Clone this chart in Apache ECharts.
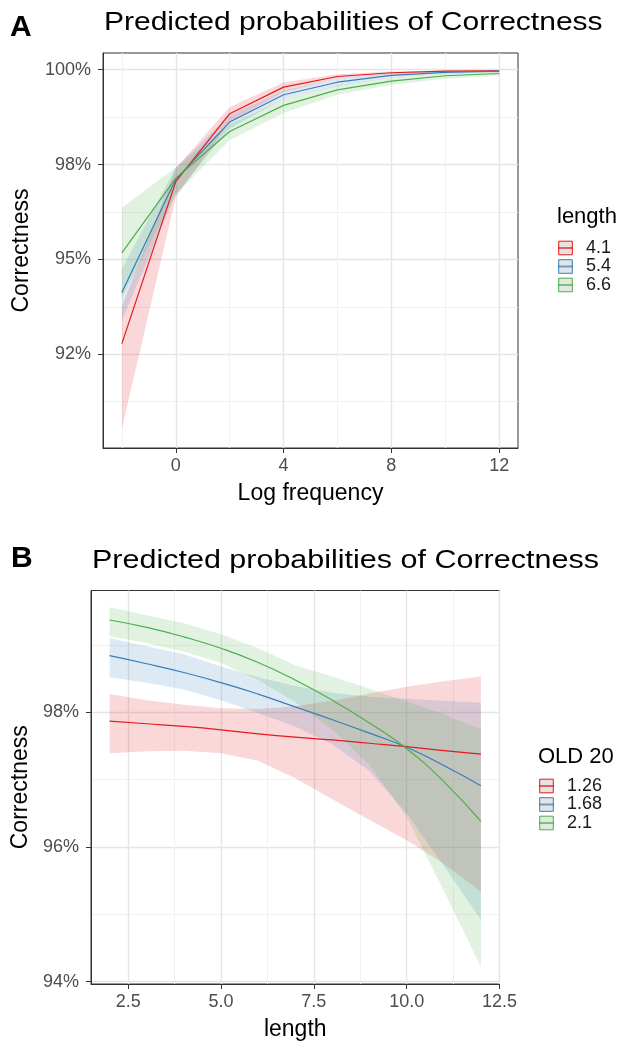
<!DOCTYPE html>
<html>
<head>
<meta charset="utf-8">
<title>Predicted probabilities of Correctness</title>
<style>
  html, body { margin: 0; padding: 0; background: #fff; }
  #chart { width: 627px; height: 1049px; }
</style>
</head>
<body>
<div id="chart"></div>
<script src="https://cdn.jsdelivr.net/npm/echarts@6/dist/echarts.min.js"></script>
<script>
// panel A: log frequency x length
var freqX = [-2, 0, 2, 4, 6, 8, 10, 12];
var lengthNames = ['4.1', '5.4', '6.6'];
var fitLen41 = [0.9278, 0.9705, 0.9884, 0.9954, 0.9982, 0.9992, 0.9996, 0.9997];
var loLen41  = [0.9054, 0.9664, 0.9862, 0.9941, 0.9976, 0.9988, 0.9993, 0.9994];
var hiLen41  = [0.9375, 0.9740, 0.9902, 0.9966, 0.9988, 0.9995, 0.9998, 0.9999];
var fitLen54 = [0.9413, 0.9711, 0.9862, 0.9934, 0.9967, 0.9985, 0.9993, 0.9996];
var loLen54  = [0.9340, 0.9672, 0.9845, 0.9923, 0.9957, 0.9979, 0.9989, 0.9993];
var hiLen54  = [0.9475, 0.9742, 0.9880, 0.9945, 0.9976, 0.9990, 0.9996, 0.9998];
var fitLen66 = [0.9517, 0.9714, 0.9837, 0.9906, 0.9947, 0.9970, 0.9984, 0.9990];
var loLen66  = [0.9400, 0.9672, 0.9814, 0.9886, 0.9934, 0.9960, 0.9976, 0.9984];
var hiLen66  = [0.9636, 0.9742, 0.9856, 0.9922, 0.9959, 0.9979, 0.9990, 0.9995];

// panel B: length x OLD 20
var lengthX = [2, 3, 4, 5, 6, 7, 8, 9, 10, 11, 12];
var oldNames = ['1.26', '1.68', '2.1'];
var fitOld126 = [0.9787, 0.9783, 0.9779, 0.9774, 0.9768, 0.9763, 0.9759, 0.9754, 0.9749, 0.9743, 0.9738];
var loOld126  = [0.9739, 0.9742, 0.9743, 0.9739, 0.9728, 0.9702, 0.9671, 0.9640, 0.9610, 0.9575, 0.9534];
var hiOld126  = [0.9827, 0.9818, 0.9811, 0.9806, 0.9805, 0.9809, 0.9817, 0.9828, 0.9838, 0.9846, 0.9853];
var fitOld168 = [0.9884, 0.9872, 0.9859, 0.9844, 0.9827, 0.9808, 0.9789, 0.9769, 0.9748, 0.9721, 0.9691];
var loOld168  = [0.9852, 0.9844, 0.9834, 0.9818, 0.9799, 0.9779, 0.9752, 0.9713, 0.9650, 0.9572, 0.9492];
var hiOld168  = [0.9910, 0.9898, 0.9886, 0.9868, 0.9852, 0.9839, 0.9829, 0.9823, 0.9820, 0.9817, 0.9814];
var fitOld21  = [0.9937, 0.9926, 0.9912, 0.9895, 0.9874, 0.9848, 0.9818, 0.9784, 0.9746, 0.9697, 0.9638];
var loOld21   = [0.9913, 0.9903, 0.9890, 0.9873, 0.9848, 0.9815, 0.9774, 0.9722, 0.9645, 0.9535, 0.9422];
var hiOld21   = [0.9956, 0.9944, 0.9932, 0.9916, 0.9895, 0.9870, 0.9853, 0.9835, 0.9816, 0.9797, 0.9774];

// ticks
var xTicksA = [0, 4, 8, 12];
var xMinorA = [-2, 2, 6, 10];
var yTicksA = [0.925, 0.95, 0.975, 1.0];
var yLabelsA = ['92%', '95%', '98%', '100%'];
var yMinorA = [0.9125, 0.9375, 0.9625, 0.9875];
var xTicksB = [2.5, 5, 7.5, 10, 12.5];
var xLabelsB = ['2.5', '5.0', '7.5', '10.0', '12.5'];
var xMinorB = [3.75, 6.25, 8.75, 11.25];
var yTicksB = [0.94, 0.96, 0.98];
var yLabelsB = ['94%', '96%', '98%'];
var yMinorB = [0.95, 0.97, 0.99];

var colors = ['#E41A1C', '#377EB8', '#4DAF4A'];
var keyFills = ['rgba(205,190,190,0.45)', 'rgba(188,196,205,0.45)', 'rgba(190,205,190,0.45)'];
var FONT = '"Liberation Sans", Arial, sans-serif';

function pickLabel(ticks, labels) {
  return function (v) {
    for (var i = 0; i < ticks.length; i++) {
      if (Math.abs(ticks[i] - v) < 1e-6) return labels[i];
    }
    return '';
  };
}

function pairs(x, y) {
  return x.map(function (v, i) { return [v, y[i]]; });
}

// ribbon drawn as one polygon through the axes' coord()
function ribbon(name, x, lo, hi, color, gi) {
  return {
    name: name, type: 'custom', xAxisIndex: gi * 2, yAxisIndex: gi * 2,
    silent: true, z: 1, clip: true,
    data: x.map(function (v, i) { return [v, lo[i], hi[i]]; }),
    encode: { x: 0, y: [1, 2] },
    renderItem: function (params, api) {
      if (params.dataIndex !== 0) return null;
      var pts = [];
      for (var i = 0; i < x.length; i++) pts.push(api.coord([x[i], hi[i]]));
      for (var j = x.length - 1; j >= 0; j--) pts.push(api.coord([x[j], lo[j]]));
      return { type: 'polygon', shape: { points: pts }, style: { fill: color, opacity: 0.17 } };
    }
  };
}

function fitLine(name, x, y, color, gi, smooth) {
  return {
    name: name, type: 'line', xAxisIndex: gi * 2, yAxisIndex: gi * 2,
    data: pairs(x, y), smooth: smooth, symbol: 'rect', showSymbol: false,
    lineStyle: { width: 1.2, color: color }, itemStyle: { color: color }, z: 3
  };
}

function mainX(gi, min, max, ticks, fmt, name, gap) {
  return {
    type: 'value', gridIndex: gi, min: min, max: max, position: 'bottom',
    name: name, nameLocation: 'middle', nameGap: gap,
    nameTextStyle: { color: '#000', fontSize: 23, fontFamily: FONT },
    axisLine: { show: true, onZero: false, lineStyle: { color: '#333', width: 1 } },
    axisTick: { show: true, length: 5, customValues: ticks, lineStyle: { color: '#333', width: 1 } },
    axisLabel: { customValues: ticks, formatter: fmt, margin: 9, color: '#4d4d4d', fontSize: 18, fontFamily: FONT },
    splitLine: { show: true, lineStyle: { color: '#e5e5e5', width: 1.4 } }
  };
}
function minorX(gi, min, max, ticks) {
  return {
    type: 'value', gridIndex: gi, min: min, max: max, position: 'top',
    axisLine: { show: false, onZero: false }, axisLabel: { show: false },
    axisTick: { show: false, customValues: ticks },
    splitLine: { show: true, lineStyle: { color: '#f1f1f1', width: 1 } }
  };
}
function mainY(gi, min, max, ticks, labels, gap) {
  return {
    type: 'value', gridIndex: gi, min: min, max: max, position: 'left',
    name: 'Correctness', nameLocation: 'middle', nameGap: gap,
    nameTextStyle: { color: '#000', fontSize: 23, fontFamily: FONT },
    axisLine: { show: true, onZero: false, lineStyle: { color: '#333', width: 1 } },
    axisTick: { show: true, length: 5, customValues: ticks, lineStyle: { color: '#333', width: 1 } },
    axisLabel: { customValues: ticks, formatter: pickLabel(ticks, labels), margin: 12, color: '#4d4d4d', fontSize: 18, fontFamily: FONT },
    splitLine: { show: true, lineStyle: { color: '#e5e5e5', width: 1.4 } }
  };
}
function minorY(gi, min, max, ticks) {
  return {
    type: 'value', gridIndex: gi, min: min, max: max, position: 'right',
    axisLine: { show: false, onZero: false }, axisLabel: { show: false },
    axisTick: { show: false, customValues: ticks },
    splitLine: { show: true, lineStyle: { color: '#f1f1f1', width: 1 } }
  };
}

function legendFor(gi, names, left, top) {
  return {
    orient: 'vertical', left: left, top: top, padding: 0,
    itemWidth: 15, itemHeight: 17, itemGap: 0.5,
    textStyle: { color: '#1a1a1a', fontSize: 18, fontFamily: FONT, lineHeight: 17, padding: [0, 0, 0, 8] },
    data: names.map(function (n, i) {
      return { name: n, itemStyle: { color: keyFills[i], borderColor: colors[i], borderWidth: 1 } };
    })
  };
}

var chart = echarts.init(document.getElementById('chart'), null, { renderer: 'canvas' });

var series = [
  ribbon('band 4.1', freqX, loLen41, hiLen41, colors[0], 0),
  ribbon('band 5.4', freqX, loLen54, hiLen54, colors[1], 0),
  ribbon('band 6.6', freqX, loLen66, hiLen66, colors[2], 0),
  fitLine(lengthNames[0], freqX, fitLen41, colors[0], 0, false),
  fitLine(lengthNames[1], freqX, fitLen54, colors[1], 0, false),
  fitLine(lengthNames[2], freqX, fitLen66, colors[2], 0, false),
  ribbon('band 1.26', lengthX, loOld126, hiOld126, colors[0], 1),
  ribbon('band 1.68', lengthX, loOld168, hiOld168, colors[1], 1),
  ribbon('band 2.1', lengthX, loOld21, hiOld21, colors[2], 1),
  fitLine(oldNames[0], lengthX, fitOld126, colors[0], 1, true),
  fitLine(oldNames[1], lengthX, fitOld168, colors[1], 1, true),
  fitLine(oldNames[2], lengthX, fitOld21, colors[2], 1, true)
];

var option = {
  animation: false,
  backgroundColor: '#fff',
  textStyle: { fontFamily: FONT },
  grid: [
    { left: 103, top: 53, width: 415, height: 395, show: true, borderColor: '#333', borderWidth: 1, backgroundColor: 'transparent' },
    { left: 91, top: 590.5, width: 408.5, height: 393.5, show: true, borderColor: '#333', borderWidth: 1, backgroundColor: 'transparent' }
  ],
  xAxis: [
    mainX(0, -2.7, 12.7, xTicksA, function (v) { return String(v); }, 'Log frequency', 34),
    minorX(0, -2.7, 12.7, xMinorA),
    mainX(1, 1.5, 12.5, xTicksB, pickLabel(xTicksB, xLabelsB), 'length', 34),
    minorX(1, 1.5, 12.5, xMinorB)
  ],
  yAxis: [
    mainY(0, 0.9003, 1.0044, yTicksA, yLabelsA, 70),
    minorY(0, 0.9003, 1.0044, yMinorA),
    mainY(1, 0.93966, 0.99808, yTicksB, yLabelsB, 58),
    minorY(1, 0.93966, 0.99808, yMinorB)
  ],
  legend: [
    legendFor(0, lengthNames, 557, 239),
    legendFor(1, oldNames, 538, 777)
  ],
  graphic: [
    { type: 'text', x: 10, y: 28, style: { text: 'A', font: 'bold 30px ' + FONT, fill: '#000', textVerticalAlign: 'middle' } },
    { type: 'text', x: 104, y: 23, scaleX: 1.2, style: { text: 'Predicted probabilities of Correctness', font: '25px ' + FONT, fill: '#000', textVerticalAlign: 'middle' } },
    { type: 'text', x: 11, y: 559, style: { text: 'B', font: 'bold 30px ' + FONT, fill: '#000', textVerticalAlign: 'middle' } },
    { type: 'text', x: 92, y: 561, scaleX: 1.22, style: { text: 'Predicted probabilities of Correctness', font: '25px ' + FONT, fill: '#000', textVerticalAlign: 'middle' } },
    { type: 'text', x: 557, y: 217, style: { text: 'length', font: '22px ' + FONT, fill: '#000', textVerticalAlign: 'middle' } },
    { type: 'text', x: 538, y: 757, style: { text: 'OLD 20', font: '22px ' + FONT, fill: '#000', textVerticalAlign: 'middle' } }
  ],
  series: series
};

chart.setOption(option);
</script>
</body>
</html>
